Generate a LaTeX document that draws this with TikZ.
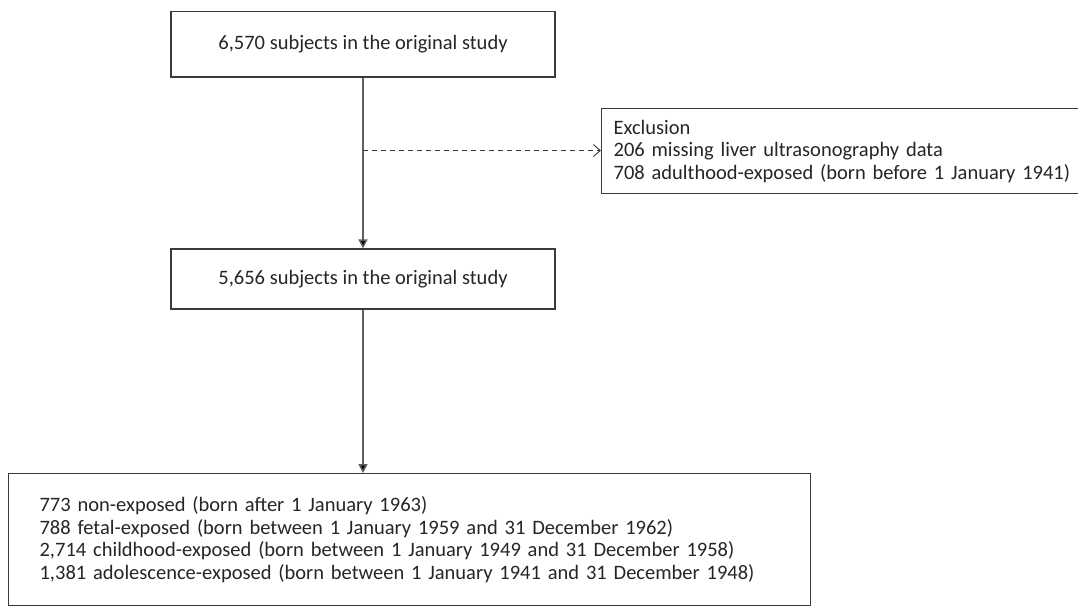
\documentclass[tikz,border=0pt]{standalone}
\usepackage{fontspec}
\setmainfont{Carlito}
\usetikzlibrary{arrows.meta}
\definecolor{edgegray}{HTML}{5F5F5F}
\definecolor{boxgray}{HTML}{3A3A3A}
\definecolor{txt}{HTML}{262626}
\begin{document}
\begin{tikzpicture}[x=1pt,y=-1pt,
  box/.style={draw=boxgray, line width=1.2pt, rectangle, text=txt,
    font=\fontsize{20.5}{22.5}\selectfont},
  lbox/.style={box, align=left, inner xsep=12pt},
  conn/.style={draw=edgegray, line width=1.5pt, -{Triangle[length=9pt,width=9pt,fill=black]}},
  dconn/.style={draw=boxgray, line width=0.9pt, dash pattern=on 5pt off 4pt, -{Straight Barb[length=7pt,width=12pt,line width=0.9pt]}}]
\useasboundingbox[fill=white] (0,0) rectangle (1078,611);
\node[box, minimum width=384pt, minimum height=65.5pt] (n1) at (363,44.25) {6,570 subjects in the original study};
\node[box, minimum width=384pt, minimum height=60pt] (n2) at (363,279) {5,656 subjects in the original study};
\node[lbox, anchor=north west, minimum width=500pt, minimum height=85pt, text width=476pt] (ex) at (601,108) {Exclusion\\206 missing liver ultrasonography data\\708 adulthood-exposed (born before 1 January 1941)};
\node[lbox, anchor=north west, minimum width=792pt, minimum height=132pt, text width=740pt, inner xsep=31pt] (n3) at (8,473) {773 non-exposed (born after 1 January 1963)\\788 fetal-exposed (born between 1 January 1959 and 31 December 1962)\\2,714 childhood-exposed (born between 1 January 1949 and 31 December 1958)\\1,381 adolescence-exposed (born between 1 January 1941 and 31 December 1948)};
\coordinate (br) at (363,150.5);
\draw[conn] (n1) -- (n2);
\draw[conn] (n2.south) -- (n2.south |- n3.north);
\draw[dconn] (br) -- (br -| ex.west);
\end{tikzpicture}
\end{document}
